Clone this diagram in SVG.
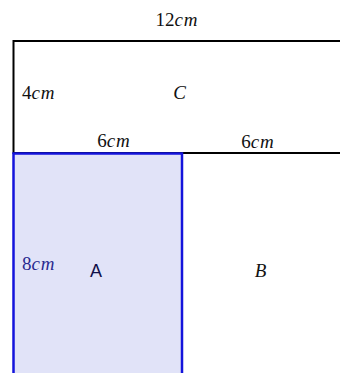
<svg xmlns="http://www.w3.org/2000/svg" width="340" height="373" viewBox="0 0 340 373">
<style>
.t{font-family:"Liberation Serif","DejaVu Serif",serif;font-size:19px;fill:#111}
.i{font-style:italic;letter-spacing:0.8px}
</style>
<rect width="340" height="373" fill="#fff"/>
<g id="rectC">
<rect x="13.5" y="41" width="340" height="112" fill="none" stroke="#000" stroke-width="2"/>
<text class="t" x="180" y="99" text-anchor="middle"><tspan class="i">C</tspan></text>
</g>
<g id="rectB">
<text class="t" x="261" y="277" text-anchor="middle"><tspan class="i">B</tspan></text>
</g>
<g id="rectA">
<rect x="13.5" y="153.5" width="168.5" height="230" fill="#e1e3f8" stroke="#1414dc" stroke-width="2.5"/>
<text x="96" y="277" text-anchor="middle" font-family="Liberation Sans,Arial,sans-serif" font-size="18" fill="#10104a">A</text>
</g>
<g id="labels">
<text class="t" x="177" y="26" text-anchor="middle">12<tspan class="i">cm</tspan></text>
<text class="t" x="22" y="99">4<tspan class="i">cm</tspan></text>
<text class="t" x="114" y="147" text-anchor="middle">6<tspan class="i">cm</tspan></text>
<text class="t" x="258" y="148" text-anchor="middle">6<tspan class="i">cm</tspan></text>
<text class="t" x="22" y="270" style="fill:#2a2a90">8<tspan class="i">cm</tspan></text>
</g>
</svg>
